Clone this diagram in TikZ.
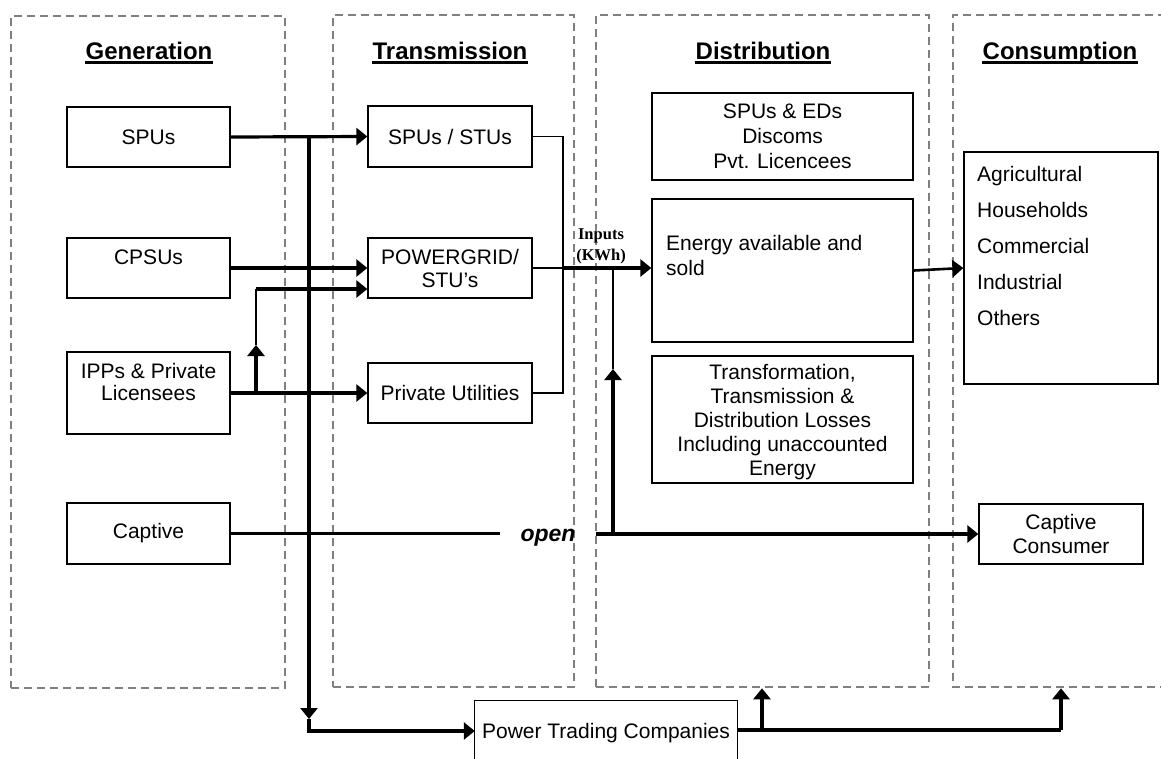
\documentclass[tikz,border=0pt]{standalone}
\usepackage{fontspec}
\setmainfont{Liberation Sans}
\newfontfamily\serifb{Liberation Serif}
\usetikzlibrary{arrows.meta}
\definecolor{dashgray}{RGB}{128,128,128}
\tikzset{
  panel/.style={draw=dashgray, line width=2.6pt, dash pattern=on 8pt off 5pt, inner sep=0pt},
  box/.style={draw=black, line width=1.3pt, inner sep=0pt},
  txt/.style={font=\fontsize{21}{24}\selectfont, inner sep=0pt, align=center},
  head/.style={font=\bfseries\fontsize{24}{28}\selectfont, inner sep=0pt, anchor=base},
  uline/.style={line width=2.2pt},
  thk/.style={line width=3.2pt},
  thn/.style={line width=1.6pt},
  arr/.style={-{Triangle[length=11pt,width=17pt]}},
}
\begin{document}
\begin{tikzpicture}[x=1pt,y=-1pt]
\useasboundingbox (0,0) rectangle (1161,758);
\fill[white] (0,0) rectangle (1161,758);

% panels
\node[panel, minimum width=274pt, minimum height=672pt] (pgen) at (148,352) {};
\node[panel, minimum width=241pt, minimum height=672pt] (ptra) at (453.5,351) {};
\node[panel, minimum width=333pt, minimum height=672pt] (pdis) at (762.5,351) {};
\draw[panel] (1166,15) -- (953,15) -- (953,687) -- (1166,687);

% headings
\node[head] (hgen) at (149,59) {Generation};
\node[head] (htra) at (450,59) {Transmission};
\node[head] (hdis) at (763,59) {Distribution};
\node[head] (hcon) at (1060,59) {Consumption};
\foreach \h in {hgen,htra,hdis,hcon}
  \draw[uline] ([yshift=-3.5pt]\h.base west) -- ([yshift=-3.5pt]\h.base east);

% generation boxes
\node[box, txt, minimum width=163pt, minimum height=60pt] (spus) at (148.5,137) {SPUs};
\node[box, minimum width=163pt, minimum height=60pt] (cpsus) at (148.5,268) {};
\node[txt] (cpsust) at (148.5,257) {CPSUs};
\node[box, minimum width=163pt, minimum height=82pt] (ipps) at (148.5,393) {};
\node[txt, font=\fontsize{21}{22}\selectfont] (ippst) at (148.5,382) {IPPs \& Private\\Licensees};
\node[box, txt, minimum width=163pt, minimum height=61pt] (captive) at (148.5,533.5) {Captive};

% transmission boxes
\node[box, txt, minimum width=164pt, minimum height=61pt] (sts) at (450,136.5) {SPUs / STUs};
\node[box, txt, font=\fontsize{21}{23}\selectfont, minimum width=164pt, minimum height=60pt] (pg) at (450,268) {POWERGRID/\\STU’s};
\node[box, txt, minimum width=164pt, minimum height=60pt] (pu) at (450,393) {Private Utilities};

% distribution boxes
\node[box, txt, font=\fontsize{21}{25}\selectfont, minimum width=261pt, minimum height=87pt] (d1) at (782.5,136.5) {SPUs \& EDs\\Discoms\\Pvt. Licencees};
\node[box, minimum width=261pt, minimum height=143pt] (energy) at (782.5,270.5) {};
\node[txt, font=\fontsize{21}{25}\selectfont, align=left, anchor=north west] (energyt) at (666,235.5) {Energy available and\\sold};
\node[box, minimum width=261pt, minimum height=127pt] (loss) at (782.5,419.5) {};
\node[txt, font=\fontsize{21}{24}\selectfont] (losst) at (782.5,422) {Transformation,\\Transmission \&\\Distribution Losses\\Including unaccounted\\Energy};

% consumption boxes
\node[box, minimum width=194pt, minimum height=232pt] (cons) at (1061,268) {};
\node[txt, font=\fontsize{21}{36}\selectfont, align=left, anchor=north west] (const) at (977,166.5) {Agricultural\\Households\\Commercial\\Industrial\\Others};
\node[box, txt, minimum width=164pt, minimum height=60pt] (cc) at (1061,534) {Captive\\Consumer};

% power trading
\node[minimum width=262pt, minimum height=62pt, inner sep=0pt] (ptcbox) at (606,732) {};
\draw[line width=1.3pt] (ptcbox.south west) -- (ptcbox.north west) -- (ptcbox.north east) -- (ptcbox.south east);
\node[txt, anchor=base] (ptct) at (606,738) {Power Trading Companies};

% labels
\node[font=\serifb\bfseries\fontsize{16.5}{21}\selectfont, align=center, inner sep=0pt] (inp) at (601,246) {Inputs\\(KWh)};
\node[font=\bfseries\itshape\fontsize{23}{26}\selectfont, inner xsep=20pt, inner ysep=0pt] (open) at (548,538) {open};

% coordinates
\coordinate (vtop) at (309,137);
\coordinate (vdown) at (309,719);
\coordinate (vcorner) at (309,731);
\coordinate (b1) at (256,393);
\coordinate (b2) at (256,345);
\coordinate (b3) at (256,289);
\coordinate (col) at (563,268);
\coordinate (u1) at (613,534);
\coordinate (u2) at (613,369);
\coordinate (u3) at (613,268);
\coordinate (pt1) at (762,730);
\coordinate (pt2) at (1061,730);

% connectors from generation
\draw[thk, arr] (spus.east) -- (sts.west);
\draw[thk, arr] (vtop) -- (vdown);
\draw[thk, arr] (vdown) -- (vcorner) -- (vcorner -| ptcbox.west);
\draw[thk, arr] (cpsus.east) -- (cpsus.east -| pg.west);
\draw[thk, arr] (ipps.east) -- (pu.west);
\draw[thk, arr] (b1) -- (b2);
\draw[thn] (b2) -- (b3);
\draw[thk, arr] (b3) -- (b3 -| pg.west);

% transmission to distribution
\draw[thn] (sts.east) -| (col) |- (pu.east);
\draw[thn] (pg.east) -- (col);
\draw[thk, arr] (col) -- (col -| energy.west);

% captive
\draw[thk] (captive.east) -- (captive.east -| open.west);
\draw[thk, arr] (cc.west -| open.east) -- (cc.west);
\draw[thk, arr] (u1) -- (u2);
\draw[thn] (u2) -- (u3);

% energy to consumption
\draw[line width=2.6pt, arr] (energy.east) -- (cons.west);

% power trading outputs
\draw[thk] (ptcbox.east |- pt1) -- (pt2);
\draw[thk, arr] (pt1) -- (pt1 |- pdis.south);
\draw[thk, arr] (pt2) -- (pt2 |- pdis.south);
\end{tikzpicture}
\end{document}
